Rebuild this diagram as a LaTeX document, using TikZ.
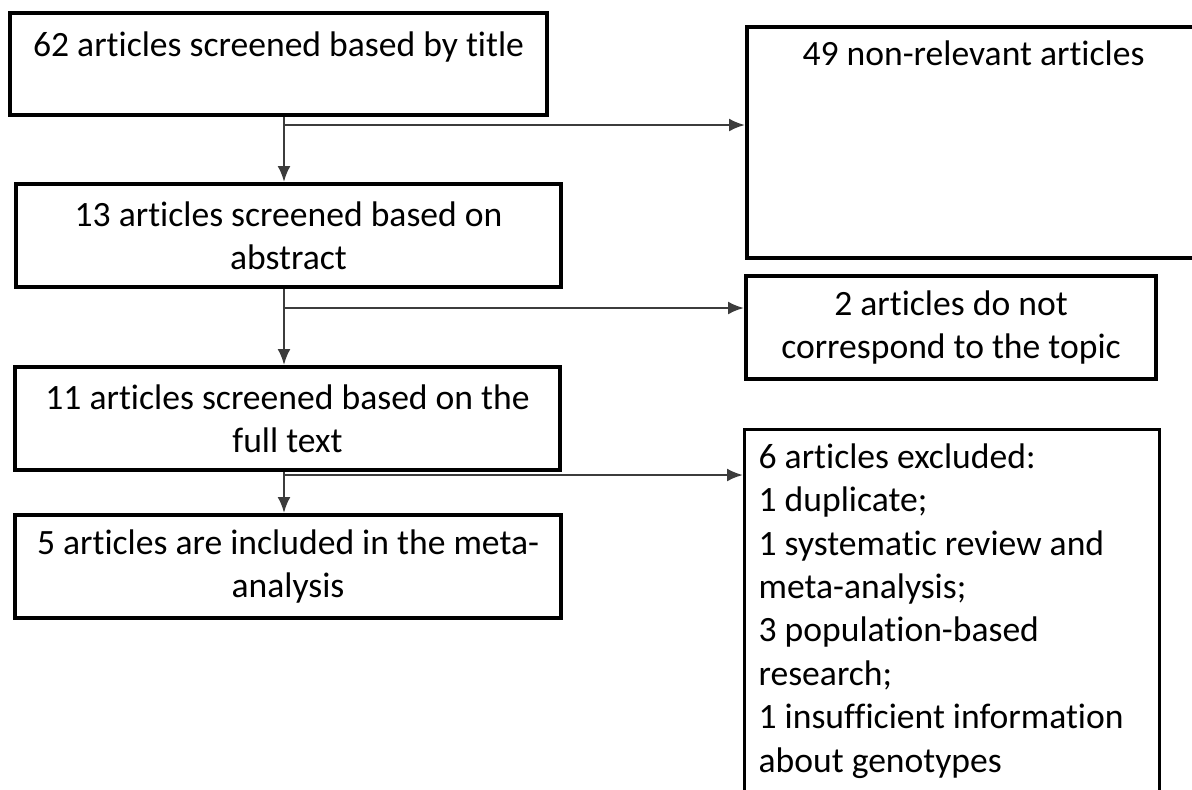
\documentclass[tikz,border=0pt]{standalone}
\usepackage{fontspec}
\setmainfont{Carlito}[Ligatures={NoCommon}]
\usetikzlibrary{arrows.meta,positioning,calc}

\definecolor{linegray}{HTML}{3C3C3C}

\tikzset{
  box/.style={draw=black, line width=2pt, rectangle, inner xsep=5pt,
    font=\fontsize{17.8}{21.7}\selectfont},
  arr/.style={draw=linegray, line width=1.2pt, -{Latex[length=8pt,width=6.5pt]}},
  link/.style={draw=linegray, line width=1.2pt}
}

\begin{document}
\begin{tikzpicture}[x=0.5pt,y=-0.5pt]
			\useasboundingbox (0,0) rectangle (1192,789);
			
			% left column
			\node[box, minimum width=268.5pt, inner ysep=0pt, text height=21.75pt, text depth=29.25pt] (title) at (278.5,64) {62 articles screened based by title};
			\node[box, align=center, minimum width=272.5pt, minimum height=51.5pt] (abstract) at (288.5,235.5) {13 articles screened based on\\abstract};
			\node[box, align=center, minimum width=272.5pt, minimum height=51.5pt] (fulltext) at (287.5,418.5) {11 articles screened based on the\\full text};
			\node[box, align=center, minimum width=273pt, minimum height=51.5pt] (included) at (288,566.5) {5 articles are included in the meta-\\analysis};
			
			% right column
			\node[box, minimum width=226.5pt, inner ysep=0pt, text height=19pt, text depth=96.5pt] (nonrel) at (973.5,142.5) {49 non-relevant articles};
			\node[box, align=center, minimum width=205pt, minimum height=51.5pt] (offtopic) at (951,327.5) {2 articles do not\\correspond to the topic};
			\node[box, line width=1.6pt, anchor=north west, align=flush left, text width=193.5pt, inner xsep=7pt, inner ysep=7pt] (excluded) at (743,428) {6 articles excluded:\\1 duplicate;\\1 systematic review and\\meta-analysis;\\3 population-based\\research;\\1 insufficient information\\about genotypes};
			
			% trunk and junctions
			\coordinate (trunk) at (284,0);
			\coordinate (j1) at (284,125);
			\coordinate (j2) at (284,308);
			\coordinate (j3) at (284,475);
			
			\draw[arr] (title.south -| trunk) -- (abstract.north -| trunk);
			\draw[arr] (abstract.south -| trunk) -- (fulltext.north -| trunk);
			\draw[arr] (fulltext.south -| trunk) -- (included.north -| trunk);
			
			\draw[arr] (j1) -- (j1 -| nonrel.west);
			\draw[arr] (j2) -- (j2 -| offtopic.west);
			\draw[arr] (j3) -- (j3 -| excluded.west);
		\end{tikzpicture}
\end{document}
